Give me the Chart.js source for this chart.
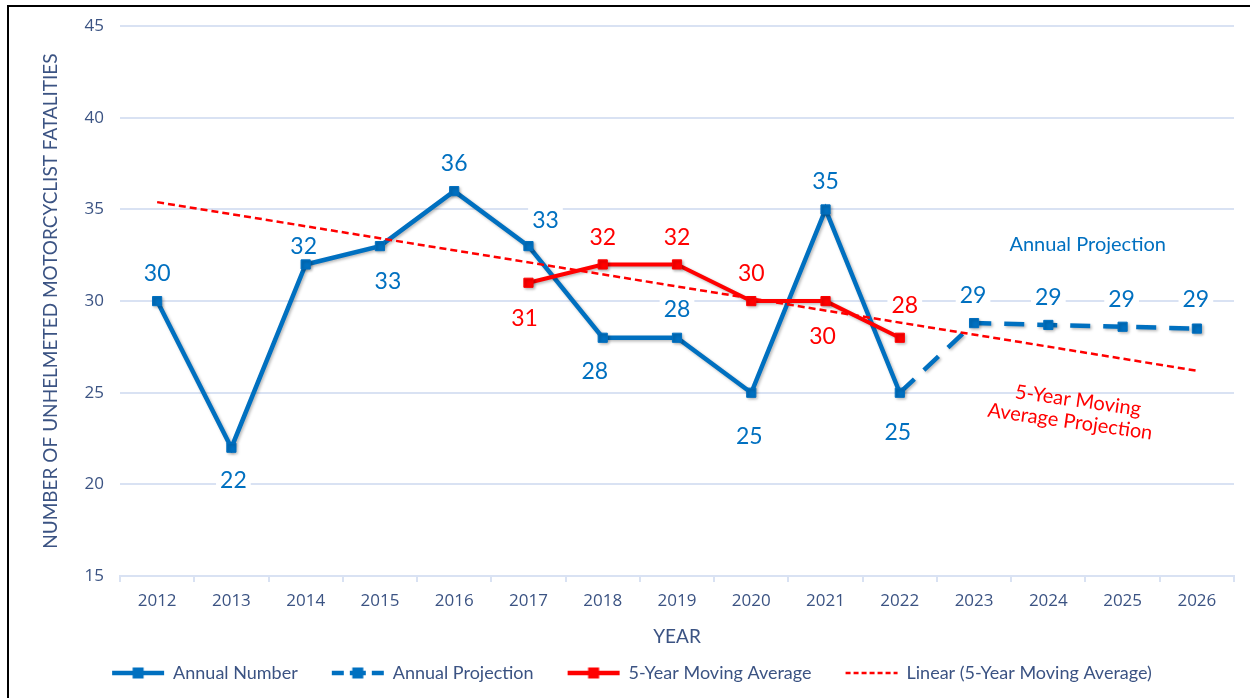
<!DOCTYPE html>
<html>
<head>
<meta charset="utf-8">
<script src="https://cdn.jsdelivr.net/npm/chart.js@4/dist/chart.umd.min.js"></script>
<style>
  html, body { margin: 0; padding: 0; background: #fff; overflow: hidden; }
  #wrap { position: relative; width: 1250px; height: 698px; }
  #frame { position: absolute; left: 7px; top: 5px; right: -10px; bottom: -10px;
           border-top: 2px solid #000; border-left: 2px solid #000; }
  #grafico { position: absolute; left: 0; top: 0; }
</style>
</head>
<body>
<div id="wrap">
  <div id="frame"></div>
  <canvas id="grafico" width="1250" height="698"></canvas>
</div>
<script>
// anos e séries
const anos = ['2012', '2013', '2014', '2015', '2016', '2017', '2018', '2019',
              '2020', '2021', '2022', '2023', '2024', '2025', '2026'];
const numeroAnual = [30, 22, 32, 33, 36, 33, 28, 28, 25, 35, 25, null, null, null, null];
const projecaoAnual = [null, null, null, null, null, null, null, null, null, null,
                       25, 28.8, 28.7, 28.6, 28.5];
const mediaMovel = [null, null, null, null, null, 31, 32, 32, 30, 30, 28,
                    null, null, null, null];
// tendência linear: só os extremos (2012 e 2026)
const tendencia = [35.4, null, null, null, null, null, null, null, null, null,
                   null, null, null, null, 26.2];
const ticksY = [15, 20, 25, 30, 35, 40, 45];

const AZUL = '#0070C0';
const VERMELHO = '#FF0000';
const TEXTO = '#3B5383';
const GRADE = '#D9E2F3';

// deslocamento dos rótulos em relação ao ponto [dx, dy]
const deslocRotulos = {
  0: [[0, -28], [2, 33], [-2, -18], [8, 35], [0, -28], [17, -26], [-8, 34],
      [0, -28], [-2, 44], [0, -28], [-2, 40]],
  1: {11: [-1, -28], 12: [0, -27], 13: [-1, -27], 14: [-1, -29]},
  2: {5: [-4, 36], 6: [0, -27], 7: [0, -27], 8: [0, -28], 9: [-3, 35], 10: [5, -32]}
};

function marcadorLegenda(tipo) {
  const c = document.createElement('canvas');
  c.width = 86; c.height = 14;
  const g = c.getContext('2d');
  const y = 7;
  if (tipo === 'linear') {
    g.strokeStyle = VERMELHO; g.lineWidth = 2.5; g.setLineDash([5, 3]);
    g.beginPath(); g.moveTo(28, y); g.lineTo(80, y); g.stroke();
    return c;
  }
  const cor = tipo === 'media' ? VERMELHO : AZUL;
  g.strokeStyle = cor; g.fillStyle = cor; g.lineWidth = 4.5;
  if (tipo === 'projecao') {
    g.beginPath(); g.moveTo(28, y); g.lineTo(40, y); g.moveTo(46, y); g.lineTo(62, y);
    g.moveTo(68, y); g.lineTo(80, y); g.stroke();
  } else {
    g.beginPath(); g.moveTo(28, y); g.lineTo(80, y); g.stroke();
  }
  g.fillRect(48.5, 1.5, 11, 11);
  return c;
}

const marcadores = [marcadorLegenda('anual'), marcadorLegenda('projecao'),
                    marcadorLegenda('media'), marcadorLegenda('linear')];

const sombraLinhas = {
  id: 'sombraLinhas',
  beforeDatasetDraw(chart, args) {
    if (args.index === 3) return;
    const ctx = chart.ctx;
    ctx.save();
    ctx.shadowColor = 'rgba(0,0,0,0.28)';
    ctx.shadowBlur = 3;
    ctx.shadowOffsetX = 1.5;
    ctx.shadowOffsetY = 1.5;
  },
  afterDatasetDraw(chart, args) {
    if (args.index === 3) return;
    chart.ctx.restore();
  }
};

function cadaRotulo(chart, fn) {
  Object.keys(deslocRotulos).forEach(k => {
    const ds = Number(k);
    const meta = chart.getDatasetMeta(ds);
    const valores = chart.data.datasets[ds].data;
    const desl = deslocRotulos[k];
    Object.keys(desl).forEach(i => {
      const v = valores[i];
      if (v === null || v === undefined) return;
      const p = meta.data[i];
      fn(ds, String(Math.round(v)), p.x + desl[i][0], p.y + desl[i][1]);
    });
  });
}

const FONTE_ROTULO = '23px Lato';

const rotulosPontos = {
  id: 'rotulosPontos',
  beforeDatasetsDraw(chart) {
    const ctx = chart.ctx;
    ctx.save();
    ctx.font = FONTE_ROTULO;
    ctx.fillStyle = '#fff';
    cadaRotulo(chart, (ds, txt, x, y) => {
      const w = ctx.measureText(txt).width;
      ctx.fillRect(x - w / 2 - 4, y - 13, w + 8, 26);
    });
    ctx.restore();
  },
  afterDatasetsDraw(chart) {
    const ctx = chart.ctx;
    ctx.save();
    ctx.font = FONTE_ROTULO;
    ctx.textAlign = 'center';
    ctx.textBaseline = 'middle';
    cadaRotulo(chart, (ds, txt, x, y) => {
      ctx.fillStyle = ds === 2 ? VERMELHO : AZUL;
      ctx.fillText(txt, x, y);
    });
    ctx.restore();
  }
};

// textos das projeções, ancorados na escala
const anotacoes = {
  id: 'anotacoes',
  afterDraw(chart) {
    const {ctx, scales: {x, y}} = chart;
    const passo = x.getPixelForValue(1) - x.getPixelForValue(0);
    ctx.save();
    ctx.font = '20px Lato';
    ctx.textAlign = 'center';
    ctx.textBaseline = 'middle';
    ctx.fillStyle = AZUL;
    ctx.fillText('Annual Projection', x.getPixelForValue(12) + passo * 0.53, y.getPixelForValue(33.1));
    ctx.fillStyle = VERMELHO;
    ctx.translate(x.getPixelForValue(12) + passo * 0.34, y.getPixelForValue(24.0));
    ctx.rotate(8 * Math.PI / 180);
    ctx.fillText('5-Year Moving', 3, -11);
    ctx.fillText('Average Projection', -2, 11);
    ctx.restore();
  }
};

function desenhar() {
  const canvas = document.getElementById('grafico');
  const ctx = canvas.getContext('2d');

  new Chart(ctx, {
    type: 'line',
    data: {
      labels: anos,
      datasets: [{
        label: 'Annual Number',
        data: numeroAnual,
        borderColor: AZUL,
        backgroundColor: AZUL,
        borderWidth: 4.5,
        pointStyle: 'rect',
        pointRadius: 6.5,
        pointBorderWidth: 1,
        tension: 0,
        order: 2,
      }, {
        label: 'Annual Projection',
        data: projecaoAnual,
        borderColor: AZUL,
        backgroundColor: AZUL,
        borderWidth: 4.5,
        borderDash: [20, 13],
        pointStyle: 'rect',
        pointRadius: c => (c.dataIndex === 10 ? 0 : 6.5),
        pointBorderWidth: 1,
        tension: 0,
        order: 3,
      }, {
        label: '5-Year Moving Average',
        data: mediaMovel,
        borderColor: VERMELHO,
        backgroundColor: VERMELHO,
        borderWidth: 4,
        pointStyle: 'rect',
        pointRadius: 6.5,
        pointBorderWidth: 1,
        tension: 0,
        order: 1,
      }, {
        label: 'Linear (5-Year Moving Average)',
        data: tendencia,
        borderColor: VERMELHO,
        borderWidth: 2.5,
        borderDash: [7, 4],
        pointRadius: 0,
        spanGaps: true,
        tension: 0,
        order: 0,
      }],
    },
    options: {
      responsive: false,
      animation: false,
      devicePixelRatio: 1,
      layout: {padding: {left: 8, right: 16, top: 15, bottom: 6}},
      scales: {
        x: {
          offset: true,
          grid: {display: true, drawOnChartArea: false, drawTicks: true, tickLength: 6,
                 color: GRADE, lineWidth: 2, offset: true},
          border: {display: true, color: GRADE, width: 2},
          ticks: {color: TEXTO, font: {family: 'Open Sans', size: 17}, padding: 9,
                  maxRotation: 0, autoSkip: false},
          title: {display: true, text: 'YEAR', color: TEXTO,
                  font: {family: 'Lato', size: 19}, padding: {top: 0, bottom: 4}},
          afterFit(s) { s.height = 76; },
        },
        y: {
          min: 15,
          max: 45,
          afterBuildTicks(s) { s.ticks = ticksY.map(v => ({value: v})); },
          grid: {color: GRADE, lineWidth: 2, drawTicks: false},
          border: {display: false},
          ticks: {color: TEXTO, font: {family: 'Open Sans', size: 17}, padding: 16},
          title: {display: true, text: 'NUMBER OF UNHELMETED MOTORCYCLIST FATALITIES',
                  color: TEXTO, font: {family: 'Lato', size: 19}, padding: {top: 31, bottom: 0}},
          afterFit(s) { s.width = 112; },
        },
      },
      plugins: {
        legend: {
          position: 'bottom',
          labels: {
            usePointStyle: true,
            pointStyleWidth: 74,
            padding: 12,
            color: TEXTO,
            font: {family: 'Lato', size: 18},
            sort: (a, b) => a.datasetIndex - b.datasetIndex,
            generateLabels(chart) {
              const itens = Chart.defaults.plugins.legend.labels.generateLabels(chart);
              itens.forEach(it => { it.pointStyle = marcadores[it.datasetIndex]; });
              return itens;
            },
          },
        },
        tooltip: {enabled: false},
      },
    },
    plugins: [sombraLinhas, rotulosPontos, anotacoes],
  });
}

Promise.all([
  document.fonts.load('23px Lato'),
  document.fonts.load('17px "Open Sans"'),
]).then(desenhar, desenhar);
</script>
</body>
</html>
